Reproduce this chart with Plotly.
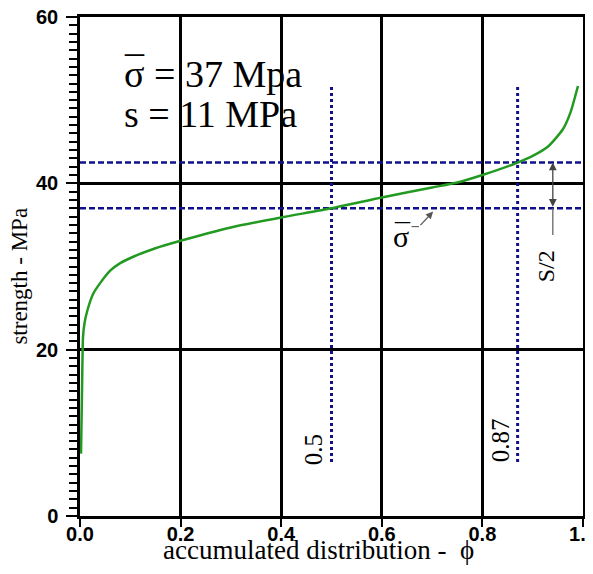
import plotly.graph_objects as go

# cumulative distribution phi vs strength (MPa)
phi = [0.002, 0.004, 0.006, 0.009, 0.015, 0.026, 0.04, 0.06, 0.08, 0.107, 0.15,
       0.2, 0.3, 0.4, 0.5, 0.6, 0.7, 0.75, 0.8, 0.87, 0.9, 0.93, 0.96, 0.975, 0.99]
strength = [7.5, 15.0, 21.5, 23.2, 24.8, 26.7, 28.0, 29.5, 30.4, 31.2, 32.2,
            33.1, 34.7, 35.9, 37.0, 38.3, 39.5, 40.1, 41.0, 42.5, 43.3, 44.4, 46.5, 48.5, 51.7]

mean_strength = 37.0
half_s = 5.5
phi_marks = [0.5, 0.87]
phi_labels = ["0.5", "0.87"]
vline_range = [6.5, 51.7]

x_ticks = [0.0, 0.2, 0.4, 0.6, 0.8, 1.0]
y_ticks = [0, 20, 40, 60]

BLUE = "#10108c"
GREEN = "#229a22"
SERIF = "Liberation Serif"
SANS = "Liberation Sans"

fig = go.Figure()

# horizontal dashed reference lines (mean and mean + s/2)
for yv in [mean_strength + half_s, mean_strength]:
    fig.add_trace(go.Scatter(x=[0, 1], y=[yv, yv], mode="lines",
                             line=dict(color=BLUE, width=2.5, dash="6px,3px"),
                             hoverinfo="skip", showlegend=False))
# vertical dotted lines
for xv in phi_marks:
    fig.add_trace(go.Scatter(x=[xv, xv], y=vline_range, mode="lines",
                             line=dict(color=BLUE, width=3, dash="3px,3px"),
                             hoverinfo="skip", showlegend=False))

fig.add_trace(go.Scatter(x=phi, y=strength, mode="lines",
                         line=dict(color=GREEN, width=2.5, shape="spline", smoothing=0.6),
                         showlegend=False))

BIG = 38
annos = []
for yv, txt in [(53.2, "σ = 37 Mpa"), (48.3, "s = 11 MPa")]:
    annos.append(dict(x=0.083, y=yv, xref="x", yref="y", text=txt,
                      showarrow=False, xanchor="left", yanchor="middle",
                      font=dict(family=SERIF, size=BIG, color="black")))
# overbar on sigma
annos.append(dict(x=0.083, y=53.2, xref="x", yref="y", text="¯", xshift=0, yshift=4,
                  showarrow=False, xanchor="left", yanchor="middle",
                  font=dict(family=SERIF, size=BIG, color="black")))

label_pos = [(0.465, 8.0), (0.835, 9.1)]
for (lx, ly), t in zip(label_pos, phi_labels):
    annos.append(dict(x=lx, y=ly, xref="x", yref="y", text=t, textangle=-90,
                      showarrow=False, font=dict(family=SERIF, size=25, color="black")))
# S/2 label
annos.append(dict(x=0.926, y=30.0, xref="x", yref="y", text="S/2", textangle=-90,
                  showarrow=False, font=dict(family=SERIF, size=24, color="black")))
# double arrow between mean and mean + s/2
annos.append(dict(x=0.94, y=mean_strength + half_s, ax=0.94, ay=mean_strength,
                  xref="x", yref="y", axref="x", ayref="y", text="",
                  showarrow=True, arrowside="end+start", arrowhead=2, arrowsize=1.2,
                  arrowwidth=1.3, arrowcolor="#444"))
# sigma bar label with arrow
for t, dx, dy in [("σ", 0, 0), ("¯", 1, 3)]:
    annos.append(dict(x=0.619, y=33.6, xref="x", yref="y", text=t, xshift=dx, yshift=dy,
                      showarrow=False, xanchor="left", yanchor="middle",
                      font=dict(family=SERIF, size=30, color="black")))
annos.append(dict(x=0.702, y=36.6, ax=0.674, ay=34.8, xref="x", yref="y",
                  axref="x", ayref="y", text="", showarrow=True, arrowhead=2,
                  arrowsize=1.2, arrowwidth=1.2, arrowcolor="#555"))

# axis titles
annos.append(dict(x=0.474, y=-0.068, xref="paper", yref="paper",
                  text="accumulated distribution -  ϕ", showarrow=False,
                  xanchor="center", yanchor="middle",
                  font=dict(family=SERIF, size=27, color="black")))
annos.append(dict(x=-0.121, y=0.48, xref="paper", yref="paper",
                  text="strength - MPa", showarrow=False, textangle=-90,
                  xanchor="center", yanchor="middle",
                  font=dict(family=SERIF, size=23, color="black")))

fig.add_shape(type="line", x0=0.94, x1=0.94, y0=mean_strength, y1=33.8,
              line=dict(color="#666", width=1.3))
fig.add_shape(type="line", x0=0.659, x1=0.674, y0=34.8, y1=34.8,
              line=dict(color="#666", width=1.2))

# the page body has an 8px default margin; size the figure so the plot area
# lands where the reference has it inside the 593x574 window
fig.update_layout(
    width=585, height=566,
    margin=dict(l=72, r=10, t=9, b=58),
    paper_bgcolor="white", plot_bgcolor="white",
    annotations=annos,
    xaxis=dict(range=[0, 1], tickvals=x_ticks, ticktext=[f"{v:.1f}" for v in x_ticks],
               automargin=False, ticklabeloverflow="allow",
               showgrid=True, gridcolor="black", gridwidth=2.5,
               showline=True, linecolor="black", linewidth=2.5, mirror=True,
               ticks="outside", ticklen=8, tickwidth=2, tickcolor="black",
               ticklabelstandoff=-10, zeroline=False,
               tickfont=dict(family=SANS, size=20, color="black", weight="bold")),
    yaxis=dict(range=[0, 60], tickmode="linear", tick0=0, dtick=20,
               automargin=False, ticklabeloverflow="allow",
               showgrid=True, gridcolor="black", gridwidth=2.5,
               showline=True, linecolor="black", linewidth=2.5, mirror=True,
               ticks="outside", ticklen=11, tickwidth=2, tickcolor="black",
               ticklabelstandoff=4, zeroline=False,
               minor=dict(dtick=1, ticks="outside", ticklen=8, tickwidth=1.5,
                          tickcolor="black", showgrid=False),
               tickfont=dict(family=SANS, size=20, color="black", weight="bold")),
)

fig.write_html("out.html")
